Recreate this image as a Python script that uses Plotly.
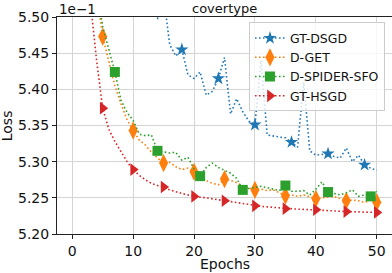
import plotly.graph_objects as go

epochs = list(range(51))

gt_dsgd = [6.20, 6.05, 5.95, 5.88, 5.82, 5.77, 5.73, 5.69, 5.66, 5.63,
           5.60, 5.58, 5.57, 5.56, 5.497, 5.53, 5.462, 5.446, 5.455, 5.420,
           5.415, 5.424, 5.392, 5.397, 5.415, 5.444, 5.366, 5.387, 5.369, 5.356,
           5.351, 5.440, 5.337, 5.335, 5.334, 5.333, 5.327, 5.320, 5.410, 5.315,
           5.309, 5.310, 5.311, 5.307, 5.305, 5.319, 5.300, 5.309, 5.2955, 5.291,
           5.288]

d_get = [5.95, 5.80, 5.69, 5.61, 5.535, 5.473, 5.440, 5.405, 5.380, 5.358,
         5.343, 5.330, 5.323, 5.313, 5.305, 5.298, 5.299, 5.293, 5.289, 5.291,
         5.286, 5.278, 5.274, 5.270, 5.268, 5.276, 5.274, 5.271, 5.266, 5.263,
         5.261, 5.262, 5.260, 5.261, 5.257, 5.253, 5.254, 5.252, 5.254, 5.251,
         5.2487, 5.250, 5.2505, 5.252, 5.249, 5.246, 5.247, 5.246, 5.2435, 5.247,
         5.244]

d_spider = [5.95, 5.80, 5.69, 5.61, 5.540, 5.487, 5.456, 5.424, 5.385, 5.368,
            5.357, 5.338, 5.336, 5.337, 5.315, 5.313, 5.312, 5.313, 5.302, 5.306,
            5.290, 5.280, 5.292, 5.298, 5.292, 5.288, 5.284, 5.277, 5.261, 5.263,
            5.265, 5.266, 5.264, 5.262, 5.260, 5.267, 5.259, 5.259, 5.260, 5.254,
            5.262, 5.272, 5.258, 5.256, 5.254, 5.257, 5.261, 5.252, 5.254, 5.252,
            5.259]

gt_hsgd = [5.95, 5.75, 5.60, 5.52, 5.44, 5.374, 5.345, 5.328, 5.313, 5.300,
           5.289, 5.281, 5.275, 5.270, 5.267, 5.265, 5.261, 5.258, 5.256, 5.254,
           5.252, 5.251, 5.250, 5.249, 5.2475, 5.246, 5.2448, 5.2435, 5.242, 5.2405,
           5.239, 5.2383, 5.2375, 5.2367, 5.236, 5.235, 5.2347, 5.2343, 5.234, 5.2337,
           5.2335, 5.233, 5.2325, 5.232, 5.2315, 5.231, 5.2308, 5.2305, 5.2302, 5.230,
           5.2298]

x_ticks = [0, 10, 20, 30, 40, 50]
y_ticks = [5.20, 5.25, 5.30, 5.35, 5.40, 5.45, 5.50]

series = [
    ("GT-DSGD", gt_dsgd, "#1f77b4", "star", 10, 6),
    ("D-GET", d_get, "#ff7f0e", "diamond-tall", 13, 5),
    ("D-SPIDER-SFO", d_spider, "#2ca02c", "square", 10, 7),
    ("GT-HSGD", gt_hsgd, "#d62728", "triangle-right", 11, 5),
]

FONT = "DejaVu Sans"
fig = go.Figure()
for name, vals, color, sym, msize, every in series:
    fig.add_trace(go.Scatter(
        x=epochs, y=vals, mode="lines", name=name, showlegend=False,
        line=dict(color=color, width=1.6, dash="1.6px,2.4px"),
        hoverinfo="skip"))
    mx = epochs[::every]
    my = vals[::every]
    fig.add_trace(go.Scatter(
        x=mx, y=my, mode="markers", name=name, showlegend=False,
        marker=dict(symbol=sym, size=msize, color=color, line=dict(width=0))))
    # legend entry
    fig.add_trace(go.Scatter(
        x=[None], y=[None], mode="lines+markers", name=name,
        line=dict(color=color, width=1.6, dash="1.6px,2.4px"),
        marker=dict(symbol=sym, size=msize, color=color, line=dict(width=0))))

axis_common = dict(
    showgrid=True, gridcolor="#d5d5d5", gridwidth=1.2,
    showline=True, linecolor="#222222", linewidth=1.1,
    ticks="outside", ticklen=4, tickwidth=1, tickcolor="#222222",
    tickfont=dict(family=FONT, size=14, color="#111111"),
    zeroline=False,
)

fig.update_layout(
    width=392, height=273,
    margin=dict(l=57, r=0, t=17, b=39),
    paper_bgcolor="white", plot_bgcolor="white",
    font=dict(family=FONT, color="#111111"),
    xaxis=dict(range=[-2.5, 52.5], tickvals=x_ticks, mirror=True, **axis_common),
    yaxis=dict(range=[5.20, 5.50], tickvals=y_ticks, tickformat=".2f", **axis_common),
    legend=dict(
        x=0.979, y=0.975, xanchor="right", yanchor="top",
        bgcolor="rgba(255,255,255,0.8)", bordercolor="#cccccc", borderwidth=1,
        font=dict(family=FONT, size=12.5, color="#111111"),
        tracegroupgap=0,
    ),
    annotations=[
        dict(text="covertype", xref="paper", yref="paper", x=0.5, y=1.037,
             xanchor="center", yanchor="middle", showarrow=False,
             font=dict(family=FONT, size=13, color="#111111")),
        dict(text="1e\u22121", xref="paper", yref="paper", x=0.0, y=1.037,
             xanchor="left", yanchor="middle", showarrow=False,
             font=dict(family=FONT, size=13.5, color="#111111")),
        dict(text="Loss", xref="paper", yref="paper", x=-0.15, y=0.5,
             xanchor="center", yanchor="middle", textangle=-90, showarrow=False,
             font=dict(family=FONT, size=14, color="#111111")),
        dict(text="Epochs", xref="paper", yref="paper", x=0.5, y=-0.14,
             xanchor="center", yanchor="middle", showarrow=False,
             font=dict(family=FONT, size=14, color="#111111")),
    ],
)

fig.write_html(
    "out.html",
    config={"displayModeBar": False},
    post_script="document.body.style.margin='0px';document.body.style.overflow='hidden';",
)
